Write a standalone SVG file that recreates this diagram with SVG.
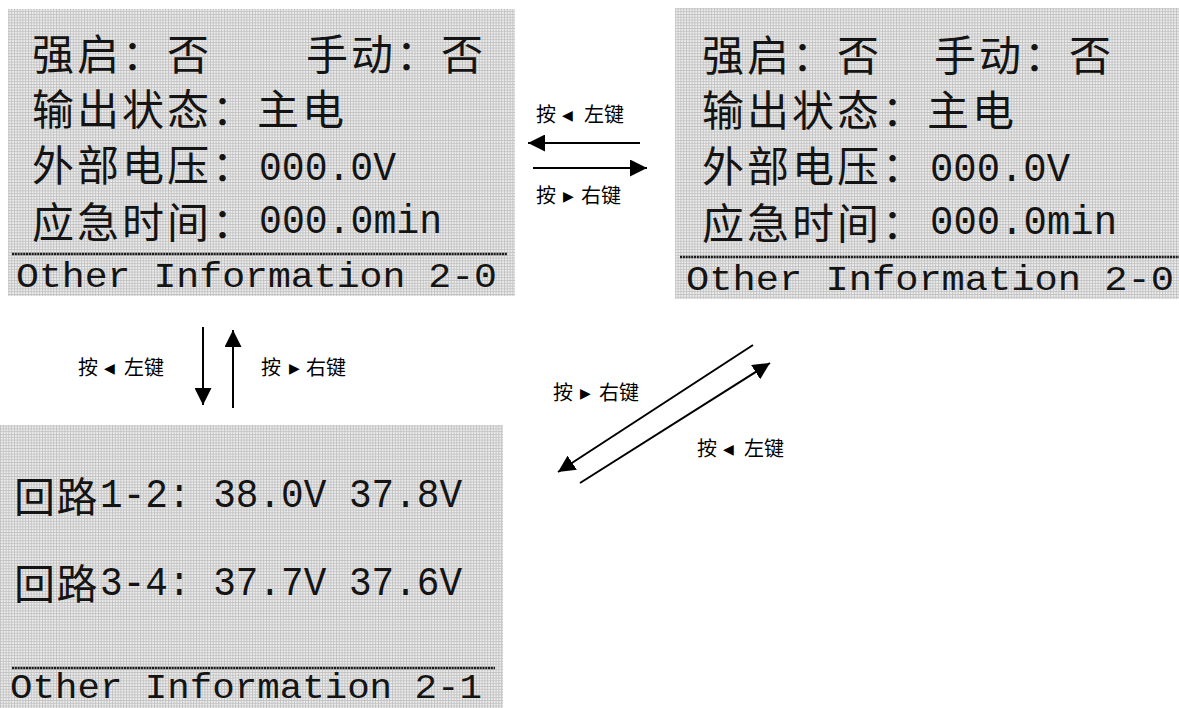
<svg xmlns="http://www.w3.org/2000/svg" width="1179" height="708" viewBox="0 0 1179 708">
<defs>
<pattern id="lcd" width="2.8" height="2.8" patternUnits="userSpaceOnUse">
<rect width="2.8" height="2.8" fill="#bfbfbf"/>
<rect x="0.8" y="0.8" width="2" height="2" fill="#ececec"/>
</pattern>
<marker id="ah" markerUnits="userSpaceOnUse" markerWidth="17" markerHeight="17" viewBox="0 0 16 16" refX="16" refY="8" orient="auto">
<path d="M0,0 L16,8 L0,16 z" fill="#000"/>
</marker>
<style>
.scr{fill:url(#lcd);}
.cjk{font-family:"Noto Sans CJK SC","Noto Sans CJK JP",sans-serif;font-size:42px;letter-spacing:3px;fill:#141414;}
.cjk3{font-family:"Noto Sans CJK SC","Noto Sans CJK JP",sans-serif;font-size:41px;letter-spacing:1.5px;fill:#141414;}
.mono{font-family:"Liberation Mono","DejaVu Sans Mono",monospace;font-size:40px;fill:#141414;}
.foot{font-family:"Liberation Mono","DejaVu Sans Mono",monospace;font-size:35px;fill:#141414;}
.sep{stroke:#1a1a1a;stroke-width:2.6;stroke-dasharray:2.1 0.7;fill:none;}
.conn{stroke:#000;stroke-width:2;fill:none;marker-end:url(#ah);}
.lbl{font-family:"Liberation Serif","Noto Sans CJK SC",serif;font-size:20px;fill:#000;}
.tri{font-family:"DejaVu Sans",sans-serif;font-size:14px;fill:#000;}
</style>
</defs>
<rect width="1179" height="708" fill="#fff"/>

<g id="screen1">
<rect class="scr" x="8" y="9" width="507" height="287"/>
<text class="cjk" x="32" y="70">强启：否</text>
<text class="cjk" x="306" y="70">手动：否</text>
<text class="cjk" x="32" y="125">输出状态：主电</text>
<text class="cjk" x="32" y="181">外部电压：</text>
<text class="mono" x="259" y="180" textLength="137" lengthAdjust="spacingAndGlyphs">000.0V</text>
<text class="cjk" x="32" y="238">应急时间：</text>
<text class="mono" x="259" y="233" textLength="183" lengthAdjust="spacingAndGlyphs">000.0min</text>
<line class="sep" x1="12" y1="254" x2="507" y2="254"/>
<text class="foot" x="16" y="287" textLength="481" lengthAdjust="spacingAndGlyphs">Other Information 2-0</text>
</g>

<g id="screen2">
<rect class="scr" x="675" y="8" width="504" height="291"/>
<text class="cjk" x="702" y="71">强启：否</text>
<text class="cjk" x="934" y="71">手动：否</text>
<text class="cjk" x="702" y="126">输出状态：主电</text>
<text class="cjk" x="702" y="182">外部电压：</text>
<text class="mono" x="930" y="181" textLength="140" lengthAdjust="spacingAndGlyphs">000.0V</text>
<text class="cjk" x="702" y="239">应急时间：</text>
<text class="mono" x="930" y="234" textLength="187" lengthAdjust="spacingAndGlyphs">000.0min</text>
<line class="sep" x1="680" y1="257" x2="1179" y2="257"/>
<text class="foot" x="686" y="290" textLength="488" lengthAdjust="spacingAndGlyphs">Other Information 2-0</text>
</g>

<g id="screen3">
<rect class="scr" x="0" y="425" width="503" height="283"/>
<text class="cjk3" x="14" y="512">回路</text>
<text class="mono" x="100" y="507" textLength="362" lengthAdjust="spacingAndGlyphs">1-2: 38.0V 37.8V</text>
<text class="cjk3" x="14" y="599">回路</text>
<text class="mono" x="100" y="595" textLength="362" lengthAdjust="spacingAndGlyphs">3-4: 37.7V 37.6V</text>
<line class="sep" x1="12" y1="668" x2="495" y2="668"/>
<text class="foot" x="10" y="698" font-size="33" textLength="472" lengthAdjust="spacingAndGlyphs">Other Information 2-1</text>
</g>

<g id="connectors">
<line class="conn" x1="640" y1="143" x2="528" y2="143"/>
<line class="conn" x1="533" y1="168" x2="647" y2="168"/>
<line class="conn" x1="203" y1="327" x2="203" y2="405"/>
<line class="conn" x1="233" y1="408" x2="233" y2="330"/>
<line class="conn" x1="753" y1="345" x2="558" y2="472"/>
<line class="conn" x1="580" y1="483" x2="770" y2="363"/>
</g>

<g id="labels">
<text class="lbl" y="122"><tspan x="536">按</tspan><tspan class="tri" x="562" dy="-2">◀</tspan><tspan x="584" dy="2">左键</tspan></text>
<text class="lbl" y="203"><tspan x="536">按</tspan><tspan class="tri" x="563" dy="-2">▶</tspan><tspan x="581" dy="2">右键</tspan></text>
<text class="lbl" y="375"><tspan x="78">按</tspan><tspan class="tri" x="104" dy="-2">◀</tspan><tspan x="124" dy="2">左键</tspan></text>
<text class="lbl" y="375"><tspan x="261">按</tspan><tspan class="tri" x="289" dy="-2">▶</tspan><tspan x="306" dy="2">右键</tspan></text>
<text class="lbl" y="400"><tspan x="553">按</tspan><tspan class="tri" x="580" dy="-2">▶</tspan><tspan x="599" dy="2">右键</tspan></text>
<text class="lbl" y="456"><tspan x="697">按</tspan><tspan class="tri" x="723" dy="-2">◀</tspan><tspan x="744" dy="2">左键</tspan></text>
</g>
</svg>
